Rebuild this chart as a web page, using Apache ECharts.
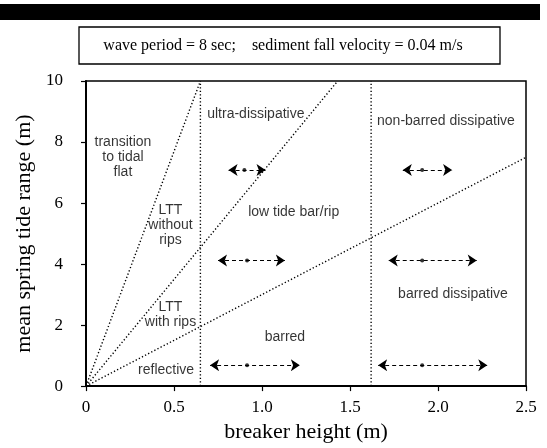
<!DOCTYPE html>
<html>
<head>
<meta charset="utf-8">
<script src="https://cdn.jsdelivr.net/npm/echarts@6/dist/echarts.min.js"></script>
<style>html,body{margin:0;padding:0;background:#fff}#c{width:547px;height:448px}</style>
</head>
<body>
<div id="c"></div>
<script>
// ---- data ----
const xTicks = ['0', '0.5', '1.0', '1.5', '2.0', '2.5'];
const yTicks = ['0', '2', '4', '6', '8', '10'];

const lineSteep = [[0, 0], [0.65, 10]];
const lineMid = [[0, 0], [1.43, 10]];
const lineLow = [[0, 0], [2.5, 7.5]];
const vertLeft = [[0.65, 0], [0.65, 10]];
const vertRight = [[1.62, 0], [1.62, 10]];

const arrowStart = [0.81, 1.80, 0.75, 1.72, 0.705, 1.66];
const arrowEnd = [1.02, 2.08, 1.13, 2.22, 1.215, 2.28];
const arrowY = [7.08, 7.08, 4.12, 4.12, 0.68, 0.68];
const arrowDot = [0.90, 1.91, 0.915, 1.91, 0.915, 1.91];

const regionNames = ['transition\nto tidal\nflat', 'ultra-dissipative', 'non-barred dissipative',
  'LTT\nwithout\nrips', 'low tide bar/rip', 'LTT\nwith rips', 'barred', 'barred dissipative', 'reflective'];
const regionX = [0.21, 0.965, 2.045, 0.48, 1.18, 0.48, 1.13, 2.085, 0.455];
const regionY = [7.5, 8.9, 8.67, 5.26, 5.7, 2.33, 1.6, 3.0, 0.52];

const noteText = 'wave period = 8 sec;    sediment fall velocity = 0.04 m/s';

// ---- chart ----
const chart = echarts.init(document.getElementById('c'), null, {renderer: 'canvas'});
const serif = 'Liberation Serif';
const sans = 'Liberation Sans';
const dotted = {color: '#000', width: 1.4, type: [1.3, 2.2]};

function boundary(d) {
  return {type: 'line', data: d, symbol: 'none', lineStyle: dotted, silent: true, z: 3};
}

const arrowData = arrowStart.map((s, i) => ({coords: [[s, arrowY[i]], [arrowEnd[i], arrowY[i]]]}));
const dotData = arrowDot.map((x, i) => [x, arrowY[i]]);
const labelData = regionNames.map((n, i) => ({name: n, value: [regionX[i], regionY[i]]}));

chart.setOption({
  animation: false,
  backgroundColor: '#fff',
  grid: {left: 86, right: 21, top: 81, bottom: 59, show: true, borderColor: '#000', borderWidth: 1.5, backgroundColor: 'transparent'},
  xAxis: {
    type: 'value', min: 0, max: 2.5, interval: 0.5,
    name: 'breaker height (m)', nameLocation: 'middle', nameGap: 34,
    nameTextStyle: {fontFamily: serif, fontSize: 22, color: '#000'},
    axisLine: {lineStyle: {color: '#000', width: 2}},
    axisTick: {inside: false, length: 5, lineStyle: {color: '#000', width: 1.2}},
    axisLabel: {fontFamily: serif, fontSize: 17, color: '#000', margin: 13,
      formatter: (v) => xTicks[Math.round(v / 0.5)]},
    splitLine: {show: false}
  },
  yAxis: {
    type: 'value', min: 0, max: 10, interval: 2,
    name: 'mean spring tide range (m)', nameLocation: 'middle', nameGap: 48,
    nameTextStyle: {fontFamily: serif, fontSize: 22, color: '#000'},
    axisLine: {lineStyle: {color: '#000', width: 2}},
    axisTick: {inside: false, length: 5, lineStyle: {color: '#000', width: 1.2}},
    axisLabel: {fontFamily: serif, fontSize: 17, color: '#000', margin: 23,
      formatter: (v) => yTicks[Math.round(v / 2)]},
    splitLine: {show: false}
  },
  graphic: [
    {type: 'rect', shape: {x: 0, y: 4, width: 540, height: 16}, style: {fill: '#000'}},
    {type: 'rect', shape: {x: 79, y: 27, width: 421, height: 37}, style: {fill: '#fff', stroke: '#000', lineWidth: 1.3}},
    {type: 'text', x: 283, y: 46, style: {text: noteText, font: '16px "Liberation Serif"', fill: '#000', align: 'center', verticalAlign: 'middle'}}
  ],
  series: [
    boundary(lineSteep), boundary(lineMid), boundary(lineLow), boundary(vertLeft), boundary(vertRight),
    {
      type: 'lines', coordinateSystem: 'cartesian2d', data: arrowData,
      symbol: ['arrow', 'arrow'], symbolSize: 9,
      lineStyle: {color: '#000', width: 1.2, type: [4, 3], opacity: 1, curveness: 0},
      silent: true, z: 4
    },
    {type: 'scatter', data: dotData, symbol: 'circle', symbolSize: 4, itemStyle: {color: '#000'}, silent: true, z: 5},
    {
      type: 'scatter', data: labelData, symbolSize: 1, itemStyle: {color: 'rgba(0,0,0,0)'}, silent: true, z: 6,
      label: {show: true, position: 'inside', formatter: (p) => p.name, fontFamily: sans, fontSize: 14,
        color: '#000', lineHeight: 15, align: 'center', verticalAlign: 'middle'}
    }
  ]
});
</script>
</body>
</html>
